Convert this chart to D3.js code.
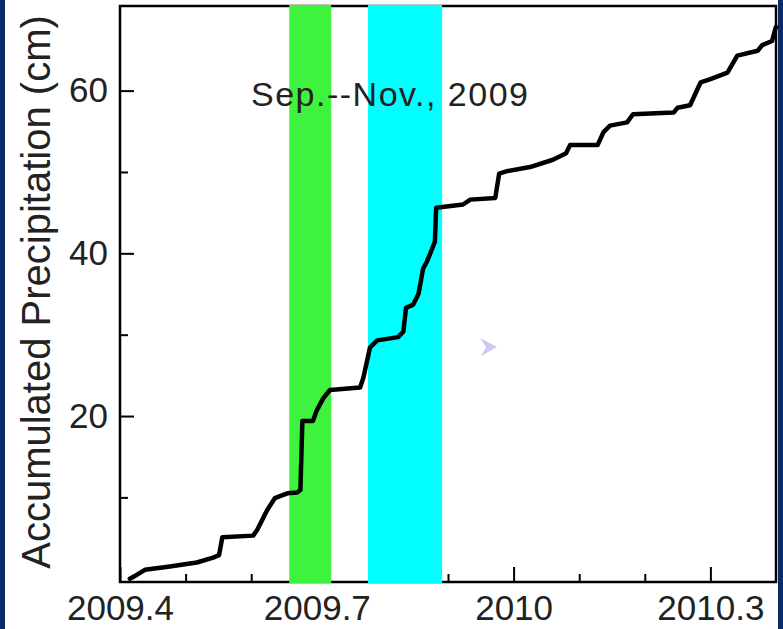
<!DOCTYPE html>
<html>
<head>
<meta charset="utf-8">
<script src="https://cdn.jsdelivr.net/npm/d3@7"></script>
<style>
  html, body { margin: 0; padding: 0; background: #ffffff; }
  svg { display: block; font-family: "Liberation Sans", Arial, sans-serif; }
</style>
</head>
<body>
<svg id="chart" width="783" height="629"></svg>
<script>
// ---- data (decimal year, accumulated precipitation in cm) ----
const times = [2009.415, 2009.426, 2009.438, 2009.476, 2009.517, 2009.542, 2009.551, 2009.556,
  2009.603, 2009.609, 2009.624, 2009.636, 2009.655, 2009.670, 2009.675, 2009.678, 2009.694,
  2009.700, 2009.710, 2009.720, 2009.766, 2009.771, 2009.781, 2009.792, 2009.824, 2009.832,
  2009.836, 2009.847, 2009.855, 2009.862, 2009.868, 2009.876, 2009.880, 2009.882, 2009.923,
  2009.934, 2009.972, 2009.978, 2009.990, 2010.025, 2010.060, 2010.080, 2010.086, 2010.128,
  2010.137, 2010.147, 2010.173, 2010.182, 2010.244, 2010.250, 2010.269, 2010.285, 2010.300,
  2010.326, 2010.341, 2010.372, 2010.379, 2010.394, 2010.399, 2010.400];
const precip = [0.0, 0.5, 1.1, 1.5, 2.0, 2.6, 2.9, 5.1,
  5.3, 6.0, 8.4, 9.9, 10.5, 10.6, 10.9, 19.4, 19.4,
  20.7, 22.2, 23.2, 23.5, 24.7, 28.4, 29.3, 29.7, 30.4,
  33.3, 33.7, 35.0, 38.1, 39.0, 40.6, 41.4, 45.6, 46.0,
  46.6, 46.8, 49.8, 50.1, 50.6, 51.5, 52.3, 53.3, 53.3,
  54.9, 55.7, 56.1, 57.1, 57.3, 57.9, 58.2, 61.0, 61.4,
  62.2, 64.3, 64.9, 65.6, 66.1, 67.6, 67.8];

// highlighted periods (decimal year)
const bandStarts = [2009.658, 2009.778];
const bandEnds   = [2009.722, 2009.891];
const bandColors = ["#3ef23e", "#00ffff"];

const xMajorTicks = [2009.4, 2009.7, 2010.0, 2010.3];
const xMajorLabels = ["2009.4", "2009.7", "2010", "2010.3"];
const xMinorTicks = [2009.5, 2009.6, 2009.8, 2009.9, 2010.1, 2010.2];
const yMajorTicks = [20, 40, 60];
const yMinorTicks = [10, 30, 50];

const yTitle = "Accumulated Precipitation (cm)";
const note = "Sep.--Nov., 2009";

// ---- layout ----
const svg = d3.select("#chart");
const L = 120, R = 776, T = 6, B = 582;

const x = d3.scaleLinear().domain([2009.4, 2010.4]).range([L, R]);
const y = d3.scaleLinear().domain([-0.4, 70.4]).range([B, T]);

// side strips (frame of the original slide)
svg.append("rect").attr("x", 0).attr("y", 0).attr("width", 5).attr("height", 629).attr("fill", "#0b2a6b");
svg.append("rect").attr("x", 778).attr("y", 0).attr("width", 5).attr("height", 629).attr("fill", "#0b2a6b");

// plot box
svg.append("rect").attr("x", L).attr("y", T).attr("width", R - L).attr("height", B - T)
  .attr("fill", "#ffffff").attr("stroke", "#000").attr("stroke-width", 2.5);

// axes (ticks inward)
function styleAxis(g) {
  g.select(".domain").remove();
  g.selectAll(".tick line").attr("stroke", "#000").attr("stroke-width", 2);
  g.selectAll(".tick text").attr("fill", "#222").attr("font-size", 35)
    .attr("font-family", "'Liberation Sans', Arial, sans-serif");
}
svg.append("g").attr("transform", `translate(0,${B})`)
  .call(d3.axisBottom(x).tickValues(xMinorTicks).tickSize(-8).tickFormat(""))
  .call(styleAxis);
svg.append("g").attr("transform", `translate(0,${B})`)
  .call(d3.axisBottom(x).tickValues(xMajorTicks).tickSize(-15).tickPadding(13)
    .tickFormat((d, i) => xMajorLabels[i]))
  .call(styleAxis);
svg.append("g").attr("transform", `translate(${L},0)`)
  .call(d3.axisLeft(y).tickValues(yMinorTicks).tickSize(-8).tickFormat(""))
  .call(styleAxis);
svg.append("g").attr("transform", `translate(${L},0)`)
  .call(d3.axisLeft(y).tickValues(yMajorTicks).tickSize(-14).tickPadding(12).tickFormat(d3.format("d")))
  .call(styleAxis);

// bands
svg.append("g").selectAll("rect").data(bandStarts).join("rect")
  .attr("x", (d) => x(d))
  .attr("y", T - 1)
  .attr("width", (d, i) => x(bandEnds[i]) - x(d))
  .attr("height", B - T + 2)
  .attr("fill", (d, i) => bandColors[i]);

// annotation
svg.append("text").attr("x", 251).attr("y", 106)
  .attr("font-size", 34).attr("fill", "#222")
  .attr("textLength", 277).attr("lengthAdjust", "spacing")
  .text(note);

// line
const pts = times.map((t, i) => [t, precip[i]]);
svg.append("path").datum(pts)
  .attr("fill", "none").attr("stroke", "#000").attr("stroke-width", 4.5)
  .attr("stroke-linejoin", "round").attr("stroke-linecap", "round")
  .attr("d", d3.line().x((d) => x(d[0])).y((d) => y(d[1])));

// y title
svg.append("text").attr("transform", "translate(50,292) rotate(-90)")
  .attr("text-anchor", "middle").attr("font-size", 40).attr("fill", "#222")
  .text(yTitle);

// stray cursor mark from the original screenshot
svg.append("path").attr("d", "M480,338 L497,347 L481,356 L486,347 Z")
  .attr("fill", "#c9c9f2");
</script>
</body>
</html>
